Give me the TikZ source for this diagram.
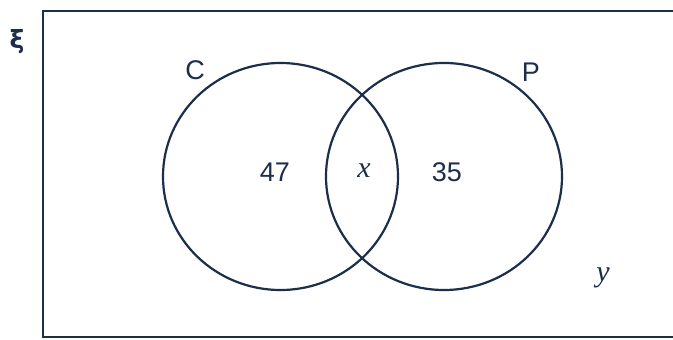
\documentclass[tikz,border=0pt]{standalone}
\usepackage{fontspec}
\setmainfont{Liberation Sans}
\newfontfamily\serifit{Liberation Serif}
\newfontfamily\greekfont{DejaVu Sans}
\definecolor{ink}{HTML}{1B2F4A}
\begin{document}
\begin{tikzpicture}[x=1pt,y=-1pt,
  setline/.style={draw=ink,line width=2.2pt},
  lbl/.style={font=\fontsize{27}{31}\selectfont,text=ink,inner sep=0pt},
  varlbl/.style={font=\fontsize{30}{34}\selectfont\serifit\itshape,text=ink,inner sep=0pt}]
\useasboundingbox (0,0) rectangle (673,340);
\fill[white] (0,0) rectangle (673,340);
\draw[setline] (690,11) -- (43,11) -- (43,337) -- (690,337);
\draw[setline] (280.5,176.5) ellipse [x radius=117.5, y radius=113.5];
\draw[setline] (444,176.5) ellipse [x radius=118, y radius=113.5];
\node[font=\fontsize{25}{29}\selectfont\greekfont\bfseries,text=ink,inner sep=0pt] (xi) at (17,42) {ξ};
\node[lbl] (c) at (195,70) {C};
\node[lbl] (p) at (531,72) {P};
\node[lbl] (n47) at (275,172) {47};
\node[varlbl] (x) at (364,171) {x};
\node[lbl] (n35) at (447,172) {35};
\node[varlbl] (y) at (603,278) {y};
\end{tikzpicture}
\end{document}
